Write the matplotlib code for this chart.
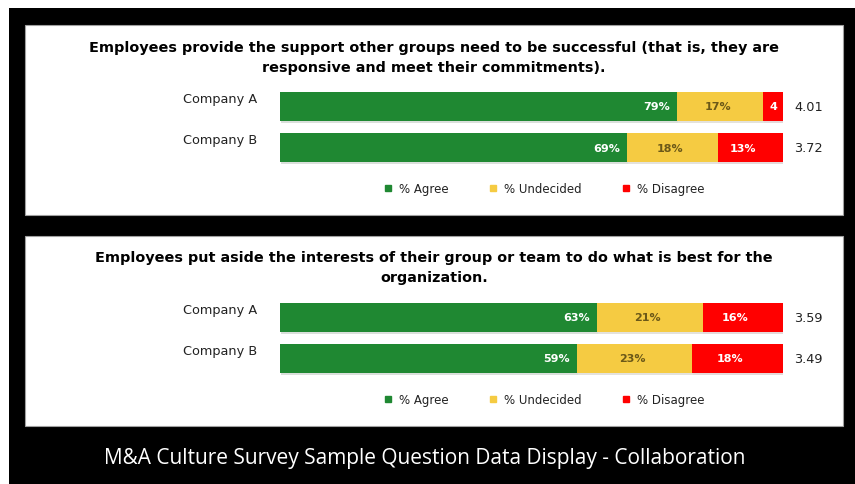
import numpy as np
import matplotlib.pyplot as plt
from matplotlib.patches import Rectangle
from matplotlib.lines import Line2D
from matplotlib.transforms import ScaledTranslation
import matplotlib.patheffects as pe

# Datos
companies = ['Company A', 'Company B']
questions = [
    'Employees provide the support other groups need to be successful (that is, they are\nresponsive and meet their commitments).',
    'Employees put aside the interests of their group or team to do what is best for the\norganization.',
]
agree = [[79, 69], [63, 59]]
undecided = [[17, 18], [21, 23]]
disagree = [[4, 13], [16, 18]]
scores = [['4.01', '3.72'], ['3.59', '3.49']]
series_names = ['% Agree', '% Undecided', '% Disagree']
main_title = 'M&A Culture Survey Sample Question Data Display - Collaboration'

GREEN = '#1f8832'
YELLOW = '#f5cb42'
RED = '#ff0000'

W, H = 855, 485
fig = plt.figure(figsize=(W / 100, H / 100), dpi=100)
fig.patch.set_facecolor('white')


def px_rect(x0, y0, x1, y1):
    """Rect en píxeles (origen arriba-izquierda) -> fracción de figura."""
    return [x0 / W, 1 - y1 / H, (x1 - x0) / W, (y1 - y0) / H]


def add_rect(x0, y0, x1, y1, fc, ec='none', lw=0):
    r = px_rect(x0, y0, x1, y1)
    fig.patches.append(Rectangle((r[0], r[1]), r[2], r[3], transform=fig.transFigure,
                                 facecolor=fc, edgecolor=ec, linewidth=lw, zorder=-5))


# Fondo negro y paneles blancos
add_rect(9, 9, 855, 485, 'black')
add_rect(25, 26, 843, 216, 'white', ec='#a0a0a0', lw=0.8)
add_rect(25, 237, 843, 427, 'white', ec='#a0a0a0', lw=0.8)

panel_axes_y = [(87, 169), (298, 380)]
title_y = [58, 268]
legend_y = [190, 401]

for q in range(2):
    y0, y1 = panel_axes_y[q]
    ax = fig.add_axes(px_rect(280, y0, 783, y1))
    ax.set_xlim(0, 100)
    ax.set_ylim(1.5, -0.5)
    ax.axis('off')

    pos = np.arange(len(companies))
    a = np.array(agree[q])
    u = np.array(undecided[q])
    d = np.array(disagree[q])
    shadow = [pe.SimplePatchShadow(offset=(0.6, -1.2), alpha=0.15), pe.Normal()]
    ax.barh(pos, a, height=0.73, color=GREEN, path_effects=shadow)
    ax.barh(pos, u, left=a, height=0.73, color=YELLOW, path_effects=shadow)
    ax.barh(pos, d, left=a + u, height=0.73, color=RED, path_effects=shadow)

    for i in range(len(companies)):
        ax.text(a[i] - 1.4, pos[i], f'{a[i]}%', ha='right', va='center',
                color='white', fontsize=8, fontweight='bold')
        ax.text(a[i] + u[i] / 2 - 0.4, pos[i], f'{u[i]}%', ha='center', va='center',
                color='#6b5818', fontsize=8, fontweight='bold')
        lab = f'{d[i]}%' if d[i] >= 10 else f'{d[i]}'
        ax.text(a[i] + u[i] + d[i] / 2 - (1.5 if d[i] >= 10 else 0), pos[i], lab,
                ha='center', va='center', color='white', fontsize=8, fontweight='bold')
        ax.annotate(scores[q][i], xy=(100, pos[i]), xytext=(8, 0), textcoords='offset points',
                    ha='left', va='center', fontsize=9.3, color='#222222')
        t = ax.text(-0.045, pos[i], companies[i], transform=ax.get_yaxis_transform(),
                    ha='right', va='center', fontsize=9.3, color='#222222')
        # etiqueta un poco por encima del centro de la barra
        t.set_transform(t.get_transform() + ScaledTranslation(0, 6 / 72, fig.dpi_scale_trans))

    fig.text(434 / W, 1 - title_y[q] / H, questions[q], ha='center', va='center',
             fontsize=10.4, fontweight='bold', color='black', linespacing=1.5)

    handles = [Line2D([], [], marker='s', ls='none', color=c, markersize=5)
               for c in (GREEN, YELLOW, RED)]
    fig.legend(handles, series_names, loc='center', ncol=3,
               bbox_to_anchor=(544 / W, 1 - legend_y[q] / H), frameon=False,
               fontsize=8.5, handlelength=0.8, handletextpad=0.5, columnspacing=3.4,
               labelcolor='#222222')

fig.text(425 / W, 1 - 459 / H, main_title, ha='center', va='center',
         fontsize=15, color='white', family=['Open Sans', 'DejaVu Sans'])

fig.savefig('out.png', dpi=100, facecolor=fig.get_facecolor())
